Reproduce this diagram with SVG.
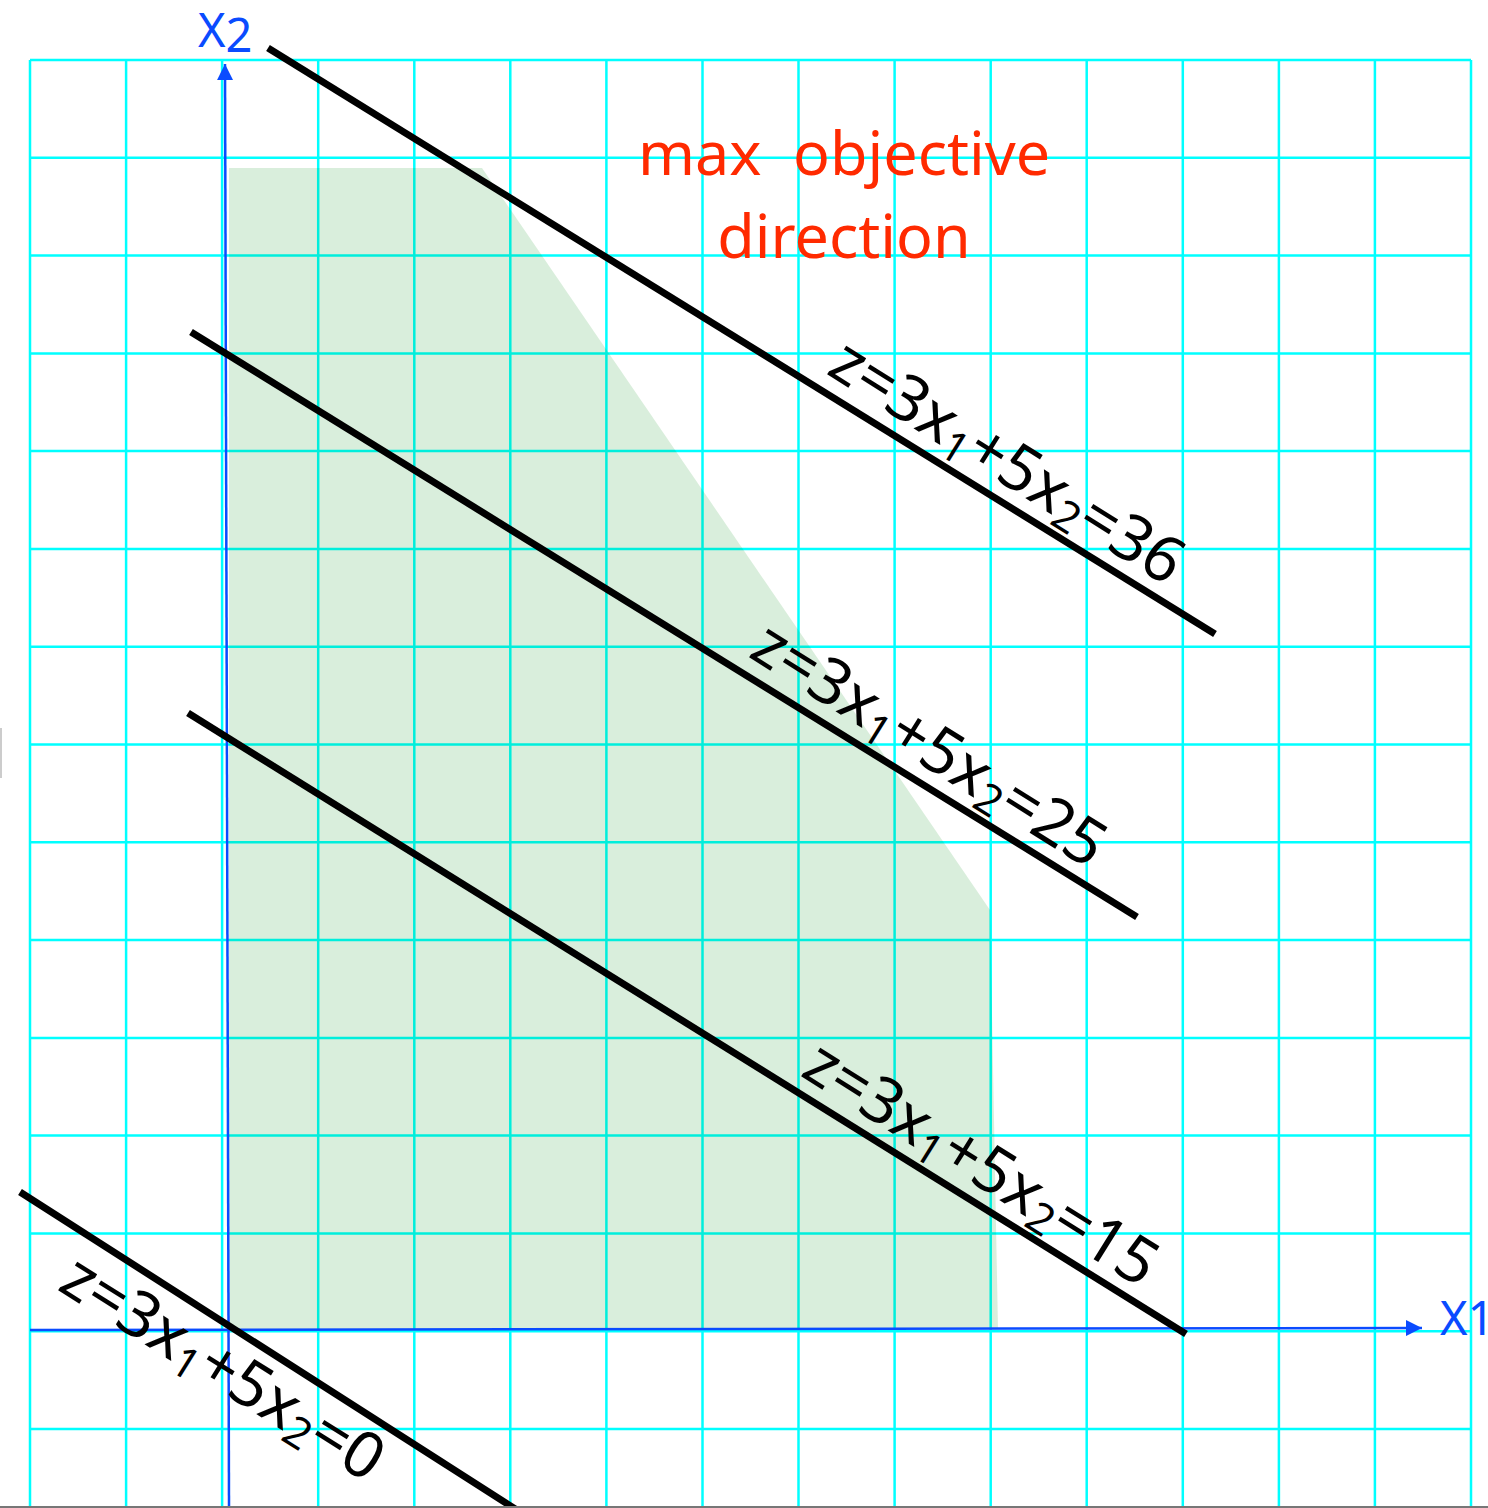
<svg xmlns="http://www.w3.org/2000/svg" width="1488" height="1508" viewBox="0 0 1488 1508">
<style>
.grid line{stroke:#00ffff;stroke-width:2.5}
.zl{stroke:#000;stroke-width:7;stroke-linecap:butt}
.lbl{font-family:"Noto Sans","Open Sans",sans-serif;font-size:64px;fill:#000}
.sub{font-size:43px}
.ax{stroke:#0a4bff;stroke-width:2.5}
.axt{font-family:"Noto Sans","Open Sans",sans-serif;font-size:47px;fill:#0a4bff}
.red{font-family:"Noto Sans","Open Sans",sans-serif;font-size:61px;fill:#ff2a00}
</style>
<defs>
<marker id="arr" viewBox="0 0 10 10" refX="10" refY="5" markerWidth="6.5" markerHeight="6.5" markerUnits="strokeWidth" orient="auto">
<path d="M0,0 L10,5 L0,10 z" fill="#0a4bff"/>
</marker>
</defs>
<rect width="1488" height="1508" fill="#fff"/>
<g id="grid" class="grid">
<line x1="30" y1="60" x2="30" y2="1506"/>
<line x1="126.1" y1="60" x2="126.1" y2="1506"/>
<line x1="222.1" y1="60" x2="222.1" y2="1506"/>
<line x1="318.2" y1="60" x2="318.2" y2="1506"/>
<line x1="414.3" y1="60" x2="414.3" y2="1506"/>
<line x1="510.3" y1="60" x2="510.3" y2="1506"/>
<line x1="606.4" y1="60" x2="606.4" y2="1506"/>
<line x1="702.5" y1="60" x2="702.5" y2="1506"/>
<line x1="798.5" y1="60" x2="798.5" y2="1506"/>
<line x1="894.6" y1="60" x2="894.6" y2="1506"/>
<line x1="990.7" y1="60" x2="990.7" y2="1506"/>
<line x1="1086.7" y1="60" x2="1086.7" y2="1506"/>
<line x1="1182.8" y1="60" x2="1182.8" y2="1506"/>
<line x1="1278.9" y1="60" x2="1278.9" y2="1506"/>
<line x1="1374.9" y1="60" x2="1374.9" y2="1506"/>
<line x1="1471" y1="60" x2="1471" y2="1506"/>
<line x1="30" y1="60" x2="1471" y2="60"/>
<line x1="30" y1="157.8" x2="1471" y2="157.8"/>
<line x1="30" y1="255.6" x2="1471" y2="255.6"/>
<line x1="30" y1="353.4" x2="1471" y2="353.4"/>
<line x1="30" y1="451.1" x2="1471" y2="451.1"/>
<line x1="30" y1="548.9" x2="1471" y2="548.9"/>
<line x1="30" y1="646.7" x2="1471" y2="646.7"/>
<line x1="30" y1="744.5" x2="1471" y2="744.5"/>
<line x1="30" y1="842.3" x2="1471" y2="842.3"/>
<line x1="30" y1="940.1" x2="1471" y2="940.1"/>
<line x1="30" y1="1037.9" x2="1471" y2="1037.9"/>
<line x1="30" y1="1135.6" x2="1471" y2="1135.6"/>
<line x1="30" y1="1233.4" x2="1471" y2="1233.4"/>
<line x1="30" y1="1331.2" x2="1471" y2="1331.2"/>
<line x1="30" y1="1429" x2="1471" y2="1429"/>
</g>
<g id="feasible-region">
<polygon points="229,168 482,168 990,910 998,1329 229,1329" fill="rgb(0,140,20)" fill-opacity="0.15"/>
</g>
<g id="axes">
<line class="ax" x1="229" y1="1506" x2="225" y2="64" marker-end="url(#arr)"/>
<line class="ax" x1="30" y1="1330" x2="1422" y2="1328" marker-end="url(#arr)"/>
<text class="axt" x="198" y="47">X<tspan dy="5">2</tspan></text>
<text class="axt" x="1440" y="1335">X<tspan>1</tspan></text>
</g>
<g id="connectors">
<line class="zl" x1="268" y1="48" x2="1215" y2="634"/>
<line class="zl" x1="191" y1="332" x2="1137" y2="917"/>
<line class="zl" x1="188" y1="713" x2="1186" y2="1334"/>
<line class="zl" x1="20" y1="1192" x2="520" y2="1512"/>
</g>
<g id="label-36">
<text class="lbl" transform="translate(825,373) rotate(32)">z=3x<tspan class="sub" dy="9">1</tspan><tspan dy="-9">+5x</tspan><tspan class="sub" dy="9">2</tspan><tspan dy="-9">=36</tspan></text>
</g>
<g id="label-25">
<text class="lbl" transform="translate(747,656) rotate(32)">z=3x<tspan class="sub" dy="9">1</tspan><tspan dy="-9">+5x</tspan><tspan class="sub" dy="9">2</tspan><tspan dy="-9">=25</tspan></text>
</g>
<g id="label-15">
<text class="lbl" transform="translate(799,1075) rotate(32)">z=3x<tspan class="sub" dy="9">1</tspan><tspan dy="-9">+5x</tspan><tspan class="sub" dy="9">2</tspan><tspan dy="-9">=15</tspan></text>
</g>
<g id="label-0">
<text class="lbl" transform="translate(56,1289) rotate(32)">z=3x<tspan class="sub" dy="9">1</tspan><tspan dy="-9">+5x</tspan><tspan class="sub" dy="9">2</tspan><tspan dy="-9">=0</tspan></text>
</g>
<g id="objective-note">
<text class="red" x="844" y="175" text-anchor="middle" xml:space="preserve" style="white-space:pre">max  objective</text>
<text class="red" x="844" y="258" text-anchor="middle">direction</text>
</g>
<rect x="0" y="728" width="2" height="50" fill="#cccccc"/>
<line x1="0" y1="1507" x2="1488" y2="1507" stroke="#777" stroke-width="2"/>
</svg>
